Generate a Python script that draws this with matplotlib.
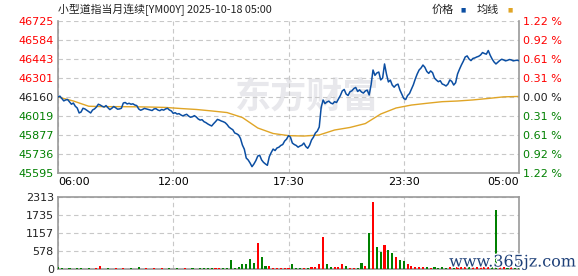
import matplotlib
matplotlib.use("Agg")
import matplotlib.pyplot as plt
import matplotlib.patheffects as pe
import numpy as np

plt.rcParams["font.family"] = ["DejaVu Sans"]

# ---- data ----
title = "小型道指当月连续[YM00Y] 2025-10-18 05:00"
prev_close = 46160
price_ticks = [45595, 45736, 45877, 46019, 46160, 46301, 46443, 46584, 46725]
pct_labels = ["1.22 %", "0.92 %", "0.61 %", "0.31 %", "0.00 %",
              "0.31 %", "0.61 %", "0.92 %", "1.22 %"]
vol_ticks = [0, 578, 1157, 1735, 2313]
time_labels = ["06:00", "12:00", "17:30", "23:30", "05:00"]

price = [46159, 46165, 46148, 46130, 46137, 46140, 46122, 46105, 46114, 46090,
         46077, 46040, 46047, 46075, 46070, 46060, 46049, 46040, 46062, 46070,
         46084, 46105, 46099, 46090, 46084, 46095, 46079, 46065, 46075, 46088,
         46079, 46068, 46070, 46075, 46114, 46118, 46107, 46112, 46105, 46108,
         46099, 46095, 46070, 46060, 46066, 46074, 46070, 46066, 46062, 46058,
         46070, 46072, 46062, 46057, 46066, 46061, 46070, 46075, 46062, 46055,
         46037, 46042, 46032, 46035, 46025, 46018, 46025, 46030, 46017, 46008,
         46012, 46020, 46010, 45995, 45987, 45990, 45975, 45968, 45958, 45950,
         45943, 45960, 45975, 45992, 45987, 45980, 45975, 45968, 45954, 45935,
         45924, 45915, 45891, 45885, 45876, 45850, 45801, 45770, 45704, 45690,
         45667, 45640, 45660, 45685, 45719, 45725, 45690, 45672, 45660, 45650,
         45714, 45745, 45771, 45760, 45779, 45785, 45798, 45805, 45831, 45845,
         45871, 45860, 45816, 45805, 45798, 45785, 45794, 45800, 45816, 45790,
         45777, 45800, 45839, 45860, 45891, 45905, 45935, 46080, 46137, 46110,
         46122, 46128, 46114, 46108, 46124, 46118, 46144, 46170, 46204, 46215,
         46181, 46170, 46198, 46205, 46222, 46230, 46200, 46212, 46196, 46188,
         46204, 46210, 46174, 46250, 46360, 46320, 46338, 46345, 46286, 46300,
         46405, 46330, 46271, 46285, 46248, 46232, 46248, 46255, 46211, 46180,
         46148, 46140, 46170, 46185, 46218, 46250, 46293, 46330, 46360, 46375,
         46397, 46380, 46349, 46335, 46353, 46340, 46300, 46285, 46273, 46280,
         46256, 46250, 46241, 46255, 46286, 46275, 46248, 46265, 46330, 46365,
         46397, 46425, 46457, 46465, 46442, 46430, 46446, 46450, 46457, 46462,
         46472, 46490, 46483, 46478, 46505, 46470, 46442, 46420, 46405, 46418,
         46431, 46440, 46435, 46428, 46432, 46438, 46435, 46428, 46431, 46433,
         46429]

# average line, one value every 8 steps of the price index
avg = [46159, 46129, 46090, 46087, 46087, 46086, 46084, 46081, 46073, 46066,
       46055, 46043, 46006, 45928, 45887, 45871, 45868, 45876, 45913, 45932,
       45961, 46032, 46077, 46099, 46112, 46124, 46129, 46137, 46148, 46160,
       46163]

# volume, one bar every 2 steps of the price index
volume = [60, 20, 15, 20, 15, 25, 20, 15, 20, 15,
          30, 100, 15, 20, 15, 20, 15, 20, 15, 20,
          15, 60, 15, 20, 15, 20, 15, 20, 15, 20,
          15, 20, 15, 20, 15, 20, 15, 20, 25, 20,
          25, 20, 25, 20, 30, 290, 30, 60, 150, 160,
          320, 190, 830, 400, 100, 90, 40, 30, 35, 30,
          20, 160, 40, 45, 40, 35, 60, 80, 150, 1030,
          150, 60, 50, 60, 150, 100, 40, 30, 40, 190,
          100, 1150, 2160, 700, 550, 770, 600, 500, 400, 300,
          250, 150, 100, 80, 70, 60, 50, 40, 60, 45,
          50, 40, 55, 45, 50, 80, 80, 50, 100, 60,
          60, 50, 80, 120, 1900, 80, 50, 40, 60, 40, 50]

x = np.arange(len(price))
x_avg = np.arange(0, len(price), 8)
x_vol = np.arange(0, len(price), 2)
n_last = len(price) - 1
tick_pos = np.linspace(0, n_last, len(time_labels))

RED = "#ff0000"
GREEN = "#008000"
DARK = "#222222"
GRID = "#c8c8c8"
FRAME = "#999999"
BLUE = "#0b4ea2"
ORANGE = "#e0a526"

fig = plt.figure(figsize=(5.78, 2.76), dpi=100)
ax = fig.add_axes([58 / 578, 1 - 172.7 / 276, 461 / 578, 151.7 / 276])
axv = fig.add_axes([58 / 578, 1 - 269 / 276, 461 / 578, 72 / 276])

# watermark
ax.text(0.54, 0.50, "东方财富", transform=ax.transAxes, fontsize=26,
        fontweight="bold", color="#e8e8ec", ha="center", va="center",
        family=["Noto Sans CJK SC"], zorder=0)

ax.plot(x, price, color=BLUE, lw=1.1, zorder=3)
ax.plot(x_avg, avg, color=ORANGE, lw=1.0, zorder=2)

ax.set_xlim(0, n_last)
ax.set_ylim(price_ticks[0], price_ticks[-1])
ax.set_yticks(price_ticks)
ax.set_yticklabels([str(v) for v in price_ticks])
ax.set_xticks(tick_pos)
ax.set_xticklabels(time_labels)
ax.grid(True, color=GRID, ls=(0, (4, 3)), lw=0.8)
ax.tick_params(length=0, labelsize=8, pad=3)
for lab, v in zip(ax.get_yticklabels(), price_ticks):
    lab.set_color(RED if v > prev_close else (GREEN if v < prev_close else DARK))
xl = ax.get_xticklabels()
xl[0].set_ha("left")
xl[-1].set_ha("right")
for s in ["left", "right", "bottom"]:
    ax.spines[s].set_color(FRAME)
    ax.spines[s].set_linewidth(1.2)
ax.spines["top"].set_visible(False)

axr = ax.twinx()
axr.set_ylim(ax.get_ylim())
axr.set_yticks(price_ticks)
axr.set_yticklabels(pct_labels)
axr.tick_params(length=0, labelsize=8, pad=3)
for lab, v in zip(axr.get_yticklabels(), price_ticks):
    lab.set_color(RED if v > prev_close else (GREEN if v < prev_close else DARK))
for s in axr.spines.values():
    s.set_visible(False)

# volume
vol_price = price[::2]
vol_colors = [GREEN] + [RED if vol_price[i] >= vol_price[i - 1] else GREEN
                        for i in range(1, len(vol_price))]
axv.bar(x_vol, volume, width=1.1, color=vol_colors, zorder=3)
axv.set_xlim(0, n_last)
axv.set_ylim(0, vol_ticks[-1])
axv.set_yticks(vol_ticks)
axv.set_xticks(tick_pos)
axv.set_xticklabels([])
axv.grid(True, color=GRID, ls=(0, (4, 3)), lw=0.8)
axv.tick_params(length=0, labelsize=8, pad=3, labelcolor=DARK)
for s in axv.spines.values():
    s.set_color(FRAME)
    s.set_linewidth(1.2)

# title and legend
fig.text(58 / 578, 1 - 9.5 / 276, title, fontsize=7.8, color=DARK,
         ha="left", va="center", family=["Noto Sans CJK SC", "DejaVu Sans"])
fig.text(432 / 578, 1 - 9.5 / 276, "价格", fontsize=8, color=DARK,
         ha="left", va="center", family=["Noto Sans CJK SC"])
fig.text(463 / 578, 1 - 9.5 / 276, "■", fontsize=4, color=BLUE,
         ha="center", va="center")
fig.text(477 / 578, 1 - 9.5 / 276, "均线", fontsize=8, color=DARK,
         ha="left", va="center", family=["Noto Sans CJK SC"])
fig.text(510 / 578, 1 - 9.5 / 276, "■", fontsize=4, color=ORANGE,
         ha="center", va="center")

fig.text(513 / 578, 1 - 262 / 276, "www.365jz.com", fontsize=11.5,
         color="#1d3f78", ha="center", va="center", family=["DejaVu Serif"],
         path_effects=[pe.withStroke(linewidth=2, foreground="white")])

fig.savefig("out.png", dpi=100)
